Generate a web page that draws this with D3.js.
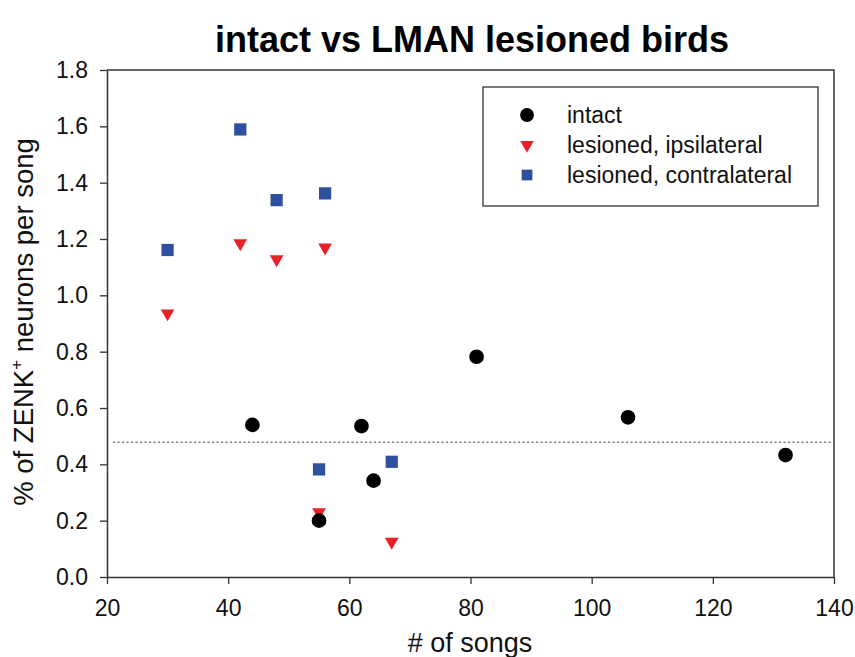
<!DOCTYPE html>
<html>
<head>
<meta charset="utf-8">
<script src="https://cdn.jsdelivr.net/npm/d3@7"></script>
<style>
  body { margin: 0; background: #fff; }
  svg text { font-family: "Liberation Sans", Arial, sans-serif; }
</style>
</head>
<body>
<svg id="chart" width="855" height="657"></svg>
<script>
// data
const intactSongs = [44, 55, 62, 64, 81, 106, 132];
const intactVals = [0.54, 0.20, 0.536, 0.342, 0.782, 0.567, 0.433];

const ipsiSongs = [30, 42, 48, 55, 56, 67];
const ipsiVals = [0.936, 1.185, 1.128, 0.23, 1.17, 0.125];

const contraSongs = [30, 42, 48, 55, 56, 67];
const contraVals = [1.161, 1.589, 1.338, 0.382, 1.362, 0.409];

const refLine = 0.478;

const xTicks = [20, 40, 60, 80, 100, 120, 140];
const yTicks = [0, 0.2, 0.4, 0.6, 0.8, 1.0, 1.2, 1.4, 1.6, 1.8];

const legendLabels = ["intact", "lesioned, ipsilateral", "lesioned, contralateral"];

const svg = d3.select('#chart');

const scalex = d3.scaleLinear().domain([20, 140]).range([107, 834]);
const scaley = d3.scaleLinear().domain([0, 1.8]).range([577, 70]);

// frame
svg.append('path')
  .attr('d', `M${scalex(20)},${scaley(1.8)}H${scalex(140)}V${scaley(0)}`)
  .attr('fill', 'none')
  .attr('stroke', '#333')
  .attr('stroke-width', 1.5);

// axes
const xAxis = svg.append('g')
  .attr('transform', `translate(0,${scaley(0)})`)
  .call(d3.axisBottom(scalex).tickValues(xTicks).tickSize(7).tickPadding(16).tickSizeOuter(0));
const yAxis = svg.append('g')
  .attr('transform', `translate(${scalex(20)},0)`)
  .call(d3.axisLeft(scaley).tickValues(yTicks).tickFormat(d3.format('.1f')).tickSize(7).tickPadding(12).tickSizeOuter(0));

[xAxis, yAxis].forEach(a => {
  a.select('.domain').attr('stroke', '#333').attr('stroke-width', 1.5);
  a.selectAll('.tick line').attr('stroke', '#333').attr('stroke-width', 1.3);
  a.selectAll('.tick text')
    .attr('fill', '#111')
    .style('font-size', '23px')
    .style('font-family', '"Liberation Sans", Arial, sans-serif');
});

// dotted reference line
svg.append('line')
  .attr('x1', scalex(21)).attr('x2', scalex(139.5))
  .attr('y1', scaley(refLine)).attr('y2', scaley(refLine))
  .attr('stroke', '#777')
  .attr('stroke-width', 1.5)
  .attr('stroke-dasharray', '2,2.5');

const sym = {
  circle: d3.symbol().type(d3.symbolCircle).size(170),
  square: d3.symbol().type(d3.symbolSquare).size(150),
  tri: d3.symbol().type(d3.symbolTriangle).size(82)
};

function addpoints(xs, ys, shape, color, flip) {
  svg.append('g')
    .selectAll('path')
    .data(xs.map((x, i) => ({ x: x, y: ys[i] })))
    .enter()
    .append('path')
    .attr('d', sym[shape])
    .attr('transform', d => `translate(${scalex(d.x)},${scaley(d.y)})` + (flip ? ' rotate(180)' : ''))
    .attr('fill', color);
}

addpoints(contraSongs, contraVals, 'square', '#2f4f9f', false);
addpoints(ipsiSongs, ipsiVals, 'tri', '#e8202a', true);
addpoints(intactSongs, intactVals, 'circle', '#000', false);

// legend
const lg = svg.append('g');
lg.append('rect')
  .attr('x', 483).attr('y', 87).attr('width', 335).attr('height', 119)
  .attr('fill', '#fff').attr('stroke', '#333').attr('stroke-width', 1.3);
const legendShapes = [['circle', '#000', false, 150], ['tri', '#e8202a', true, 80], ['square', '#2f4f9f', false, 115]];
legendLabels.forEach((lab, i) => {
  const cy = 115 + i * 30;
  const s = legendShapes[i];
  lg.append('path')
    .attr('d', d3.symbol().type(s[0] === 'circle' ? d3.symbolCircle : (s[0] === 'tri' ? d3.symbolTriangle : d3.symbolSquare)).size(s[3])())
    .attr('transform', `translate(527,${cy})` + (s[2] ? ' rotate(180)' : ''))
    .attr('fill', s[1]);
  lg.append('text')
    .attr('x', 567).attr('y', cy + 8)
    .style('font-size', '23px')
    .attr('fill', '#111')
    .text(lab);
});

// title
svg.append('text')
  .attr('x', 472).attr('y', 52)
  .attr('text-anchor', 'middle')
  .style('font-size', '36px')
  .style('font-weight', 'bold')
  .attr('fill', '#000')
  .text('intact vs LMAN lesioned birds');

// axis labels
svg.append('text')
  .attr('x', 470).attr('y', 652)
  .attr('text-anchor', 'middle')
  .style('font-size', '27px')
  .attr('fill', '#111')
  .text('# of songs');

const yl = svg.append('text')
  .attr('transform', 'translate(33,322) rotate(-90)')
  .attr('text-anchor', 'middle')
  .style('font-size', '27.5px')
  .attr('fill', '#111');
yl.append('tspan').text('% of ZENK');
yl.append('tspan').attr('dy', -11).style('font-size', '17px').text('+');
yl.append('tspan').attr('dy', 11).text(' neurons per song');
</script>
</body>
</html>
